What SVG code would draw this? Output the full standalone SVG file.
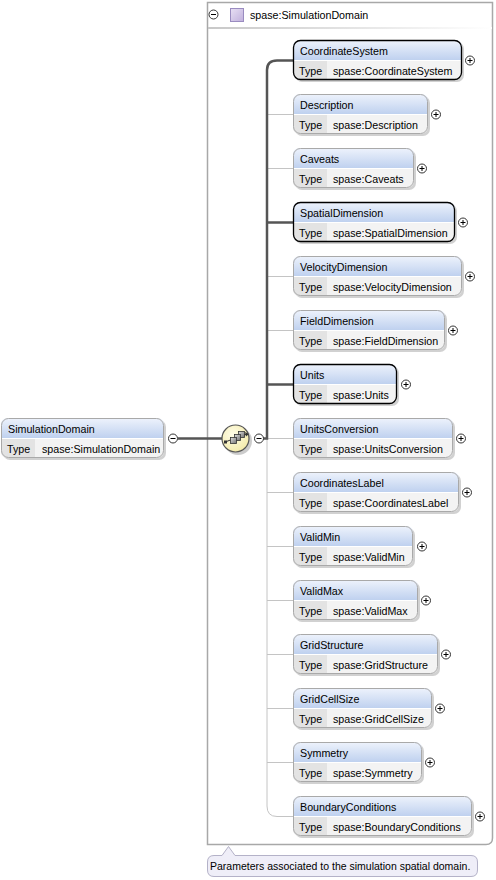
<svg xmlns="http://www.w3.org/2000/svg" width="496" height="880" viewBox="0 0 496 880">
<defs>
<linearGradient id="hdr" x1="0" y1="0" x2="0" y2="1">
<stop offset="0" stop-color="#eef3fc"/>
<stop offset="1" stop-color="#bfd1ef"/>
</linearGradient>
<linearGradient id="sep" x1="0" y1="0" x2="1" y2="0">
<stop offset="0" stop-color="#c8c8c8"/>
<stop offset="1" stop-color="#ffffff"/>
</linearGradient>
<radialGradient id="seqg" cx="0.4" cy="0.35" r="0.7">
<stop offset="0" stop-color="#fffde8"/>
<stop offset="1" stop-color="#f3eaa8"/>
</radialGradient>
<linearGradient id="sq" x1="0" y1="0" x2="1" y2="1">
<stop offset="0" stop-color="#e0e0e0"/>
<stop offset="1" stop-color="#707070"/>
</linearGradient>
<linearGradient id="purp" x1="0" y1="0" x2="1" y2="1">
<stop offset="0" stop-color="#e8e0f4"/>
<stop offset="1" stop-color="#c0b0dc"/>
</linearGradient>
</defs>
<style>
text{font-family:"Liberation Sans",Arial,sans-serif;font-size:10.7px;fill:#000}
.shadow{fill:#000;opacity:.18}
.body{fill:#f3f3f3}
.head{fill:url(#hdr)}
.tcell{fill:#e3e3e3}
.bopt{fill:none;stroke:#a9a9a9;stroke-width:1}
.breq{fill:none;stroke:#000;stroke-width:1.3}
.div{stroke:#ffffff;stroke-width:1}
.btn{fill:#fff;stroke:#333;stroke-width:1}
.sym{stroke:#000;stroke-width:1;fill:none}
.thick{fill:none;stroke:#555;stroke-width:2.5}
.thin{fill:none;stroke:#c4c4c4;stroke-width:1}
</style>

<!-- container -->
<g id="container">
<path d="M207.5,2.5 H492.5 V838 Q492.5,844.5 486,844.5 H207.5 Z" fill="#fff" stroke="#a8a8a8" stroke-width="1.5"/>
<rect x="208" y="27" width="284" height="2" fill="url(#sep)"/>
<circle cx="213.5" cy="14.5" r="4.5" class="btn"/>
<line x1="211" y1="14.5" x2="216" y2="14.5" class="sym"/>
<rect x="230.5" y="8.5" width="13" height="13" fill="url(#purp)" stroke="#9a8cc0" stroke-width="1"/>
<text x="250" y="18.5">spase:SimulationDomain</text>
</g>

<!-- connectors -->
<g id="connectors">
<path class="thin" d="M263,438.5 H293"/>
<path class="thin" d="M267,438.5 V806 Q267,816.5 277,816.5 H293"/>
<path class="thin" d="M267,114.5 H293"/>
<path class="thin" d="M267,168.5 H293"/>
<path class="thin" d="M267,276.5 H293"/>
<path class="thin" d="M267,330.5 H293"/>
<path class="thin" d="M267,492.5 H293"/>
<path class="thin" d="M267,546.5 H293"/>
<path class="thin" d="M267,600.5 H293"/>
<path class="thin" d="M267,654.5 H293"/>
<path class="thin" d="M267,708.5 H293"/>
<path class="thin" d="M267,762.5 H293"/>
<path class="thick" d="M178,438.5 H222"/>
<path class="thick" d="M263,438.5 H267 V70 Q267,60.5 277,60.5 H293"/>
<path class="thick" d="M267,222.5 H293"/>
<path class="thick" d="M267,384.5 H293"/>
</g>

<!-- left node -->
<g id="SimulationDomain">
<rect x="3" y="420" width="163" height="40" rx="7" class="shadow"/>
<rect x="1" y="418" width="163" height="40" rx="7" class="body"/>
<path d="M1,438 V425 Q1,418 8,418 H157 Q164,418 164,425 V438 Z" class="head"/>
<path d="M1,439 H35 V458 H8 Q1,458 1,451 Z" class="tcell"/>
<line x1="1" y1="438.5" x2="164" y2="438.5" class="div"/>
<rect x="1.5" y="418.5" width="162" height="39" rx="7" class="bopt"/>
<text x="8" y="433">SimulationDomain</text>
<text x="7" y="453">Type</text>
<text x="42" y="453">spase:SimulationDomain</text>
<circle cx="173" cy="438.5" r="4.5" class="btn"/>
<line x1="170.5" y1="438.5" x2="175.5" y2="438.5" class="sym"/>
</g>

<!-- sequence compositor -->
<g id="sequence">
<circle cx="238" cy="441" r="14" fill="#000" opacity=".2"/>
<circle cx="235.5" cy="438.5" r="13.5" fill="url(#seqg)" stroke="#555" stroke-width="1.2"/>
<line x1="225" y1="442" x2="247" y2="434" stroke="#333" stroke-width="1"/>
<rect x="238.5" y="431.5" width="6" height="6" fill="url(#sq)" stroke="#333" stroke-width=".8"/>
<rect x="234.5" y="434.5" width="6" height="6" fill="url(#sq)" stroke="#333" stroke-width=".8"/>
<rect x="230.5" y="437.5" width="6" height="6" fill="url(#sq)" stroke="#333" stroke-width=".8"/>
<rect x="224" y="440.5" width="3" height="3" fill="#333"/>
<path d="M245,432 L249,434 L246,436.5 Z" fill="#333"/>
<circle cx="259" cy="438.5" r="4.5" class="btn"/>
<line x1="256.5" y1="438.5" x2="261.5" y2="438.5" class="sym"/>
</g>

<!-- child nodes -->
<g id="CoordinateSystem">
<rect x="295" y="42" width="169" height="40" rx="7" class="shadow"/>
<rect x="293" y="40" width="169" height="40" rx="7" class="body"/>
<path d="M293,60 V47 Q293,40 300,40 H455 Q462,40 462,47 V60 Z" class="head"/>
<path d="M293,61 H327 V80 H300 Q293,80 293,73 Z" class="tcell"/>
<line x1="293" y1="60.5" x2="462" y2="60.5" class="div"/>
<rect x="293.5" y="40.5" width="168" height="39" rx="7" class="breq"/>
<text x="300" y="55">CoordinateSystem</text>
<text x="299" y="75">Type</text>
<text x="333" y="75">spase:CoordinateSystem</text>
<circle cx="470" cy="60.5" r="4.5" class="btn"/>
<path d="M467.5,60.5 H472.5 M470,58 V63" class="sym"/>
</g>

<g id="Description">
<rect x="295" y="96" width="135" height="40" rx="7" class="shadow"/>
<rect x="293" y="94" width="135" height="40" rx="7" class="body"/>
<path d="M293,114 V101 Q293,94 300,94 H421 Q428,94 428,101 V114 Z" class="head"/>
<path d="M293,115 H327 V134 H300 Q293,134 293,127 Z" class="tcell"/>
<line x1="293" y1="114.5" x2="428" y2="114.5" class="div"/>
<rect x="293.5" y="94.5" width="134" height="39" rx="7" class="bopt"/>
<text x="300" y="109">Description</text>
<text x="299" y="129">Type</text>
<text x="333" y="129">spase:Description</text>
<circle cx="436" cy="114.5" r="4.5" class="btn"/>
<path d="M433.5,114.5 H438.5 M436,112 V117" class="sym"/>
</g>

<g id="Caveats">
<rect x="295" y="150" width="121" height="40" rx="7" class="shadow"/>
<rect x="293" y="148" width="121" height="40" rx="7" class="body"/>
<path d="M293,168 V155 Q293,148 300,148 H407 Q414,148 414,155 V168 Z" class="head"/>
<path d="M293,169 H327 V188 H300 Q293,188 293,181 Z" class="tcell"/>
<line x1="293" y1="168.5" x2="414" y2="168.5" class="div"/>
<rect x="293.5" y="148.5" width="120" height="39" rx="7" class="bopt"/>
<text x="300" y="163">Caveats</text>
<text x="299" y="183">Type</text>
<text x="333" y="183">spase:Caveats</text>
<circle cx="422" cy="168.5" r="4.5" class="btn"/>
<path d="M419.5,168.5 H424.5 M422,166 V171" class="sym"/>
</g>

<g id="SpatialDimension">
<rect x="295" y="204" width="162" height="40" rx="7" class="shadow"/>
<rect x="293" y="202" width="162" height="40" rx="7" class="body"/>
<path d="M293,222 V209 Q293,202 300,202 H448 Q455,202 455,209 V222 Z" class="head"/>
<path d="M293,223 H327 V242 H300 Q293,242 293,235 Z" class="tcell"/>
<line x1="293" y1="222.5" x2="455" y2="222.5" class="div"/>
<rect x="293.5" y="202.5" width="161" height="39" rx="7" class="breq"/>
<text x="300" y="217">SpatialDimension</text>
<text x="299" y="237">Type</text>
<text x="333" y="237">spase:SpatialDimension</text>
<circle cx="463" cy="222.5" r="4.5" class="btn"/>
<path d="M460.5,222.5 H465.5 M463,220 V225" class="sym"/>
</g>

<g id="VelocityDimension">
<rect x="295" y="258" width="169" height="40" rx="7" class="shadow"/>
<rect x="293" y="256" width="169" height="40" rx="7" class="body"/>
<path d="M293,276 V263 Q293,256 300,256 H455 Q462,256 462,263 V276 Z" class="head"/>
<path d="M293,277 H327 V296 H300 Q293,296 293,289 Z" class="tcell"/>
<line x1="293" y1="276.5" x2="462" y2="276.5" class="div"/>
<rect x="293.5" y="256.5" width="168" height="39" rx="7" class="bopt"/>
<text x="300" y="271">VelocityDimension</text>
<text x="299" y="291">Type</text>
<text x="333" y="291">spase:VelocityDimension</text>
<circle cx="470" cy="276.5" r="4.5" class="btn"/>
<path d="M467.5,276.5 H472.5 M470,274 V279" class="sym"/>
</g>

<g id="FieldDimension">
<rect x="295" y="312" width="152" height="40" rx="7" class="shadow"/>
<rect x="293" y="310" width="152" height="40" rx="7" class="body"/>
<path d="M293,330 V317 Q293,310 300,310 H438 Q445,310 445,317 V330 Z" class="head"/>
<path d="M293,331 H327 V350 H300 Q293,350 293,343 Z" class="tcell"/>
<line x1="293" y1="330.5" x2="445" y2="330.5" class="div"/>
<rect x="293.5" y="310.5" width="151" height="39" rx="7" class="bopt"/>
<text x="300" y="325">FieldDimension</text>
<text x="299" y="345">Type</text>
<text x="333" y="345">spase:FieldDimension</text>
<circle cx="453" cy="330.5" r="4.5" class="btn"/>
<path d="M450.5,330.5 H455.5 M453,328 V333" class="sym"/>
</g>

<g id="Units">
<rect x="295" y="366" width="104" height="40" rx="7" class="shadow"/>
<rect x="293" y="364" width="104" height="40" rx="7" class="body"/>
<path d="M293,384 V371 Q293,364 300,364 H390 Q397,364 397,371 V384 Z" class="head"/>
<path d="M293,385 H327 V404 H300 Q293,404 293,397 Z" class="tcell"/>
<line x1="293" y1="384.5" x2="397" y2="384.5" class="div"/>
<rect x="293.5" y="364.5" width="103" height="39" rx="7" class="breq"/>
<text x="300" y="379">Units</text>
<text x="299" y="399">Type</text>
<text x="333" y="399">spase:Units</text>
<circle cx="406" cy="384.5" r="4.5" class="btn"/>
<path d="M403.5,384.5 H408.5 M406,382 V387" class="sym"/>
</g>

<g id="UnitsConversion">
<rect x="295" y="420" width="160" height="40" rx="7" class="shadow"/>
<rect x="293" y="418" width="160" height="40" rx="7" class="body"/>
<path d="M293,438 V425 Q293,418 300,418 H446 Q453,418 453,425 V438 Z" class="head"/>
<path d="M293,439 H327 V458 H300 Q293,458 293,451 Z" class="tcell"/>
<line x1="293" y1="438.5" x2="453" y2="438.5" class="div"/>
<rect x="293.5" y="418.5" width="159" height="39" rx="7" class="bopt"/>
<text x="300" y="433">UnitsConversion</text>
<text x="299" y="453">Type</text>
<text x="333" y="453">spase:UnitsConversion</text>
<circle cx="461" cy="438.5" r="4.5" class="btn"/>
<path d="M458.5,438.5 H463.5 M461,436 V441" class="sym"/>
</g>

<g id="CoordinatesLabel">
<rect x="295" y="474" width="166" height="40" rx="7" class="shadow"/>
<rect x="293" y="472" width="166" height="40" rx="7" class="body"/>
<path d="M293,492 V479 Q293,472 300,472 H452 Q459,472 459,479 V492 Z" class="head"/>
<path d="M293,493 H327 V512 H300 Q293,512 293,505 Z" class="tcell"/>
<line x1="293" y1="492.5" x2="459" y2="492.5" class="div"/>
<rect x="293.5" y="472.5" width="165" height="39" rx="7" class="bopt"/>
<text x="300" y="487">CoordinatesLabel</text>
<text x="299" y="507">Type</text>
<text x="333" y="507">spase:CoordinatesLabel</text>
<circle cx="467" cy="492.5" r="4.5" class="btn"/>
<path d="M464.5,492.5 H469.5 M467,490 V495" class="sym"/>
</g>

<g id="ValidMin">
<rect x="295" y="528" width="120" height="40" rx="7" class="shadow"/>
<rect x="293" y="526" width="120" height="40" rx="7" class="body"/>
<path d="M293,546 V533 Q293,526 300,526 H406 Q413,526 413,533 V546 Z" class="head"/>
<path d="M293,547 H327 V566 H300 Q293,566 293,559 Z" class="tcell"/>
<line x1="293" y1="546.5" x2="413" y2="546.5" class="div"/>
<rect x="293.5" y="526.5" width="119" height="39" rx="7" class="bopt"/>
<text x="300" y="541">ValidMin</text>
<text x="299" y="561">Type</text>
<text x="333" y="561">spase:ValidMin</text>
<circle cx="422" cy="546.5" r="4.5" class="btn"/>
<path d="M419.5,546.5 H424.5 M422,544 V549" class="sym"/>
</g>

<g id="ValidMax">
<rect x="295" y="582" width="125" height="40" rx="7" class="shadow"/>
<rect x="293" y="580" width="125" height="40" rx="7" class="body"/>
<path d="M293,600 V587 Q293,580 300,580 H411 Q418,580 418,587 V600 Z" class="head"/>
<path d="M293,601 H327 V620 H300 Q293,620 293,613 Z" class="tcell"/>
<line x1="293" y1="600.5" x2="418" y2="600.5" class="div"/>
<rect x="293.5" y="580.5" width="124" height="39" rx="7" class="bopt"/>
<text x="300" y="595">ValidMax</text>
<text x="299" y="615">Type</text>
<text x="333" y="615">spase:ValidMax</text>
<circle cx="426" cy="600.5" r="4.5" class="btn"/>
<path d="M423.5,600.5 H428.5 M426,598 V603" class="sym"/>
</g>

<g id="GridStructure">
<rect x="295" y="636" width="145" height="40" rx="7" class="shadow"/>
<rect x="293" y="634" width="145" height="40" rx="7" class="body"/>
<path d="M293,654 V641 Q293,634 300,634 H431 Q438,634 438,641 V654 Z" class="head"/>
<path d="M293,655 H327 V674 H300 Q293,674 293,667 Z" class="tcell"/>
<line x1="293" y1="654.5" x2="438" y2="654.5" class="div"/>
<rect x="293.5" y="634.5" width="144" height="39" rx="7" class="bopt"/>
<text x="300" y="649">GridStructure</text>
<text x="299" y="669">Type</text>
<text x="333" y="669">spase:GridStructure</text>
<circle cx="446" cy="654.5" r="4.5" class="btn"/>
<path d="M443.5,654.5 H448.5 M446,652 V657" class="sym"/>
</g>

<g id="GridCellSize">
<rect x="295" y="690" width="139" height="40" rx="7" class="shadow"/>
<rect x="293" y="688" width="139" height="40" rx="7" class="body"/>
<path d="M293,708 V695 Q293,688 300,688 H425 Q432,688 432,695 V708 Z" class="head"/>
<path d="M293,709 H327 V728 H300 Q293,728 293,721 Z" class="tcell"/>
<line x1="293" y1="708.5" x2="432" y2="708.5" class="div"/>
<rect x="293.5" y="688.5" width="138" height="39" rx="7" class="bopt"/>
<text x="300" y="703">GridCellSize</text>
<text x="299" y="723">Type</text>
<text x="333" y="723">spase:GridCellSize</text>
<circle cx="440" cy="708.5" r="4.5" class="btn"/>
<path d="M437.5,708.5 H442.5 M440,706 V711" class="sym"/>
</g>

<g id="Symmetry">
<rect x="295" y="744" width="129" height="40" rx="7" class="shadow"/>
<rect x="293" y="742" width="129" height="40" rx="7" class="body"/>
<path d="M293,762 V749 Q293,742 300,742 H415 Q422,742 422,749 V762 Z" class="head"/>
<path d="M293,763 H327 V782 H300 Q293,782 293,775 Z" class="tcell"/>
<line x1="293" y1="762.5" x2="422" y2="762.5" class="div"/>
<rect x="293.5" y="742.5" width="128" height="39" rx="7" class="bopt"/>
<text x="300" y="757">Symmetry</text>
<text x="299" y="777">Type</text>
<text x="333" y="777">spase:Symmetry</text>
<circle cx="430" cy="762.5" r="4.5" class="btn"/>
<path d="M427.5,762.5 H432.5 M430,760 V765" class="sym"/>
</g>

<g id="BoundaryConditions">
<rect x="295" y="798" width="179" height="40" rx="7" class="shadow"/>
<rect x="293" y="796" width="179" height="40" rx="7" class="body"/>
<path d="M293,816 V803 Q293,796 300,796 H465 Q472,796 472,803 V816 Z" class="head"/>
<path d="M293,817 H327 V836 H300 Q293,836 293,829 Z" class="tcell"/>
<line x1="293" y1="816.5" x2="472" y2="816.5" class="div"/>
<rect x="293.5" y="796.5" width="178" height="39" rx="7" class="bopt"/>
<text x="300" y="811">BoundaryConditions</text>
<text x="299" y="831">Type</text>
<text x="333" y="831">spase:BoundaryConditions</text>
<circle cx="480" cy="816.5" r="4.5" class="btn"/>
<path d="M477.5,816.5 H482.5 M480,814 V819" class="sym"/>
</g>

<!-- annotation -->
<g id="annotation">
<path d="M207.5,862 Q207.5,855.5 214,855.5 H222 L228.5,846.5 L235,855.5 H471 Q477.5,855.5 477.5,862 V870 Q477.5,876.5 471,876.5 H214 Q207.5,876.5 207.5,870 Z" fill="#efeef8" stroke="#b4b2c8" stroke-width="1"/>
<text x="210" y="870" style="font-size:10.5px">Parameters associated to the simulation spatial domain.</text>
</g>
</svg>
